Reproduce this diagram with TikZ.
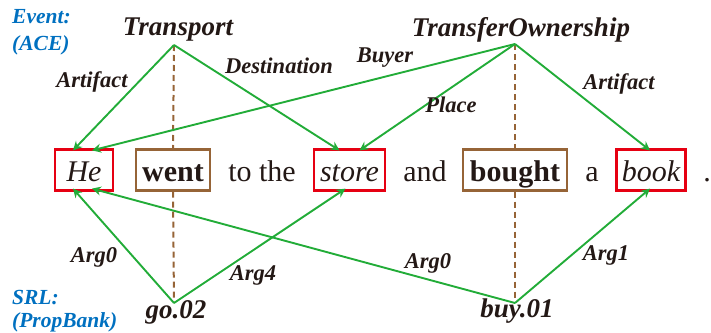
\documentclass[tikz,border=0pt]{standalone}
\usepackage{fontspec}
\setmainfont{Liberation Serif}
\usetikzlibrary{arrows.meta,calc}
\definecolor{argGreen}{RGB}{34,172,56}
\definecolor{boxRed}{RGB}{230,0,18}
\definecolor{trigBrown}{RGB}{150,100,55}
\definecolor{tagBlue}{RGB}{0,112,192}
\definecolor{ink}{RGB}{35,24,21}
\begin{document}
\begin{tikzpicture}[x=1pt,y=-1pt,
  word/.style={font=\fontsize{30}{30}\selectfont, text=ink, inner xsep=0pt,
    inner ysep=0pt, text height=22pt, text depth=0pt, minimum height=41pt},
  argbox/.style={word, draw=boxRed, line width=2.2pt},
  trigbox/.style={word, draw=trigBrown, line width=2.2pt},
  evtitle/.style={font=\fontsize{27}{27}\selectfont\bfseries\itshape, text=ink, inner sep=0pt},
  rolelabel/.style={font=\fontsize{22.5}{22.5}\selectfont\bfseries\itshape, text=ink, inner sep=0pt},
  schema/.style={font=\fontsize{21.5}{24}\selectfont\bfseries\itshape, text=tagBlue,
    inner sep=0pt, anchor=west},
  rolearrow/.style={draw=argGreen, line width=1.9pt,
    -{Stealth[length=9pt,width=9pt,inset=3pt]}},
  trigline/.style={draw=trigBrown, line width=2pt, dash pattern=on 6pt off 4pt}]
\useasboundingbox (0,0) rectangle (711,332);

% sentence
\node[argbox, minimum width=58pt] (he) at (84,170) {\itshape He};
\node[trigbox, minimum width=74pt] (went) at (173,170) {\bfseries went};
\node[word] (tothe) at (262,170) {to the};
\node[argbox, minimum width=71pt] (store) at (349.5,170) {\itshape store};
\node[word] (and) at (425,170) {and};
\node[trigbox, minimum width=104pt] (bought) at (515,170) {\bfseries bought};
\node[word] (a) at (592,170) {a};
\node[argbox, minimum width=69pt] (book) at (651,170) {\itshape book};
\node[word] (dot) at (707,170) {.};

% schema tags
\node[schema] (ev1) at (12,17) {Event:};
\node[schema] (ev2) at (12,45) {(ACE)};
\node[schema] (srl1) at (12,298) {SRL:};
\node[schema] (srl2) at (12,322) {(PropBank)};

% event types and predicate senses
\node[evtitle] (transport) at (178,30) {Transport};
\node[evtitle] (transfer) at (521,30) {TransferOwnership};
\node[evtitle] (go) at (176,312) {go.02};
\node[evtitle] (buy) at (517,311) {buy.01};
\coordinate (tA) at (174,45);
\coordinate (oA) at (515,44);
\coordinate (gA) at (174,303);
\coordinate (bA) at (515,303);

% trigger links
\draw[trigline] (tA) -- (went.north);
\draw[trigline] (went.south) -- (gA);
\draw[trigline] (oA) -- (bought.north);
\draw[trigline] (bought.south) -- (bA);

% ACE arguments
\draw[rolearrow] (tA) -- ([xshift=-11pt,yshift=-2pt]he.north);
\draw[rolearrow] (oA) -- ([xshift=8pt,yshift=-2pt]he.north);
\draw[rolearrow] (tA) -- ([xshift=-10pt,yshift=-2pt]store.north);
\draw[rolearrow] (oA) -- ([xshift=10pt,yshift=-2pt]store.north);
\draw[rolearrow] (oA) -- ([xshift=-1pt,yshift=-2pt]book.north);

% SRL arguments
\draw[rolearrow] (gA) -- ([xshift=-11pt,yshift=3pt]he.south);
\draw[rolearrow] (bA) -- ([xshift=8pt,yshift=3pt]he.south);
\draw[rolearrow] (gA) -- ([xshift=-4pt,yshift=3pt]store.south);
\draw[rolearrow] (bA) -- ([xshift=-1pt,yshift=3pt]book.south);

% role labels
\node[rolelabel] (lArt1) at (92,82) {Artifact};
\node[rolelabel] (lDest) at (279,66) {Destination};
\node[rolelabel] (lBuyer) at (385,58) {Buyer};
\node[rolelabel] (lPlace) at (451,105) {Place};
\node[rolelabel] (lArt2) at (619,84) {Artifact};
\node[rolelabel] (lArg0a) at (94,257) {Arg0};
\node[rolelabel] (lArg4) at (253,275) {Arg4};
\node[rolelabel] (lArg0b) at (428,263) {Arg0};
\node[rolelabel] (lArg1) at (606,255) {Arg1};
\end{tikzpicture}
\end{document}
